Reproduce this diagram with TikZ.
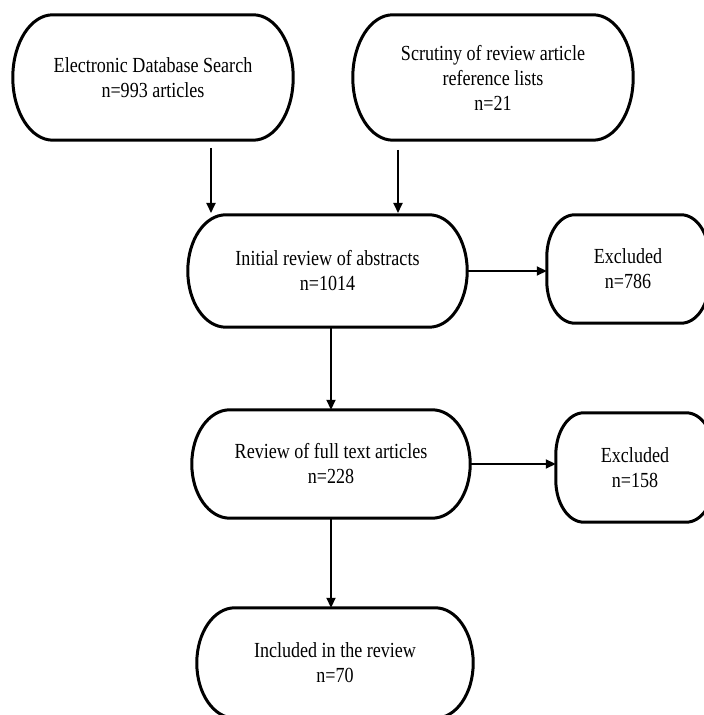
\documentclass[tikz,border=0pt]{standalone}
\usepackage{fontspec}
\setmainfont[FakeStretch=0.84]{Liberation Serif}
\usetikzlibrary{calc,arrows.meta}

% stadium-like box with elliptical corners, drawn around a node
\newcommand{\capsule}[3]{%
  \draw[boxline]
    ($(#1.north west)+(#2,0)$) -- ($(#1.north east)+(-#2,0)$)
    arc[start angle=90,end angle=0,x radius=#2,y radius=#3]
    -- ($(#1.south east)+(0,#3)$)
    arc[start angle=0,end angle=-90,x radius=#2,y radius=#3]
    -- ($(#1.south west)+(#2,0)$)
    arc[start angle=270,end angle=180,x radius=#2,y radius=#3]
    -- ($(#1.north west)+(0,-#3)$)
    arc[start angle=180,end angle=90,x radius=#2,y radius=#3]
    -- cycle;}

\begin{document}
\begin{tikzpicture}[x=1pt,y=1pt,
  boxline/.style={line width=3pt,line join=round},
  box/.style={inner sep=0pt,align=center,
    font=\fontsize{21.5}{25}\selectfont},
  flow/.style={line width=1.8pt,-{Triangle[length=10pt,width=9pt]}}]
\useasboundingbox (0,0) rectangle (704,715);
\clip (0,0) rectangle (704,715);

% nodes
\node[box,minimum width=280,minimum height=125] (src1) at (153,637.5)
  {Electronic Database Search\\n=993 articles};
\node[box,minimum width=280,minimum height=125] (src2) at (493,637.5)
  {Scrutiny of review article\\reference lists\\n=21};
\node[box,minimum width=279,minimum height=112] (init) at (327.5,444)
  {Initial review of abstracts\\n=1014};
\node[box,minimum width=162,minimum height=108] (exa) at (628,446)
  {Excluded\\n=786};
\node[box,minimum width=278,minimum height=108] (full) at (331,251)
  {Review of full text articles\\n=228};
\node[box,minimum width=158,minimum height=109] (exb) at (635,247.5)
  {Excluded\\n=158};
\node[box,minimum width=276,minimum height=110] (incl) at (335,52)
  {Included in the review\\n=70};

% outlines
\capsule{src1}{40}{62.5}
\capsule{src2}{40}{62.5}
\capsule{init}{38}{56}
\capsule{exa}{28}{42}
\capsule{full}{38}{54}
\capsule{exb}{28}{42}
\capsule{incl}{38}{55}

% connectors
\coordinate (s1) at (211,567);
\coordinate (t1) at (211,502);
\coordinate (s2) at (398,565);
\coordinate (t2) at (398,502);
\draw[flow] (s1) -- (t1);
\draw[flow] (s2) -- (t2);
\draw[flow] (init.east) -- (init.east -| exa.west);
\draw[flow] (full.north |- init.south) -- (full.north);
\draw[flow] (full.east) -- (full.east -| exb.west);
\draw[flow] (full.south) -- (full.south |- incl.north);
\end{tikzpicture}
\end{document}
